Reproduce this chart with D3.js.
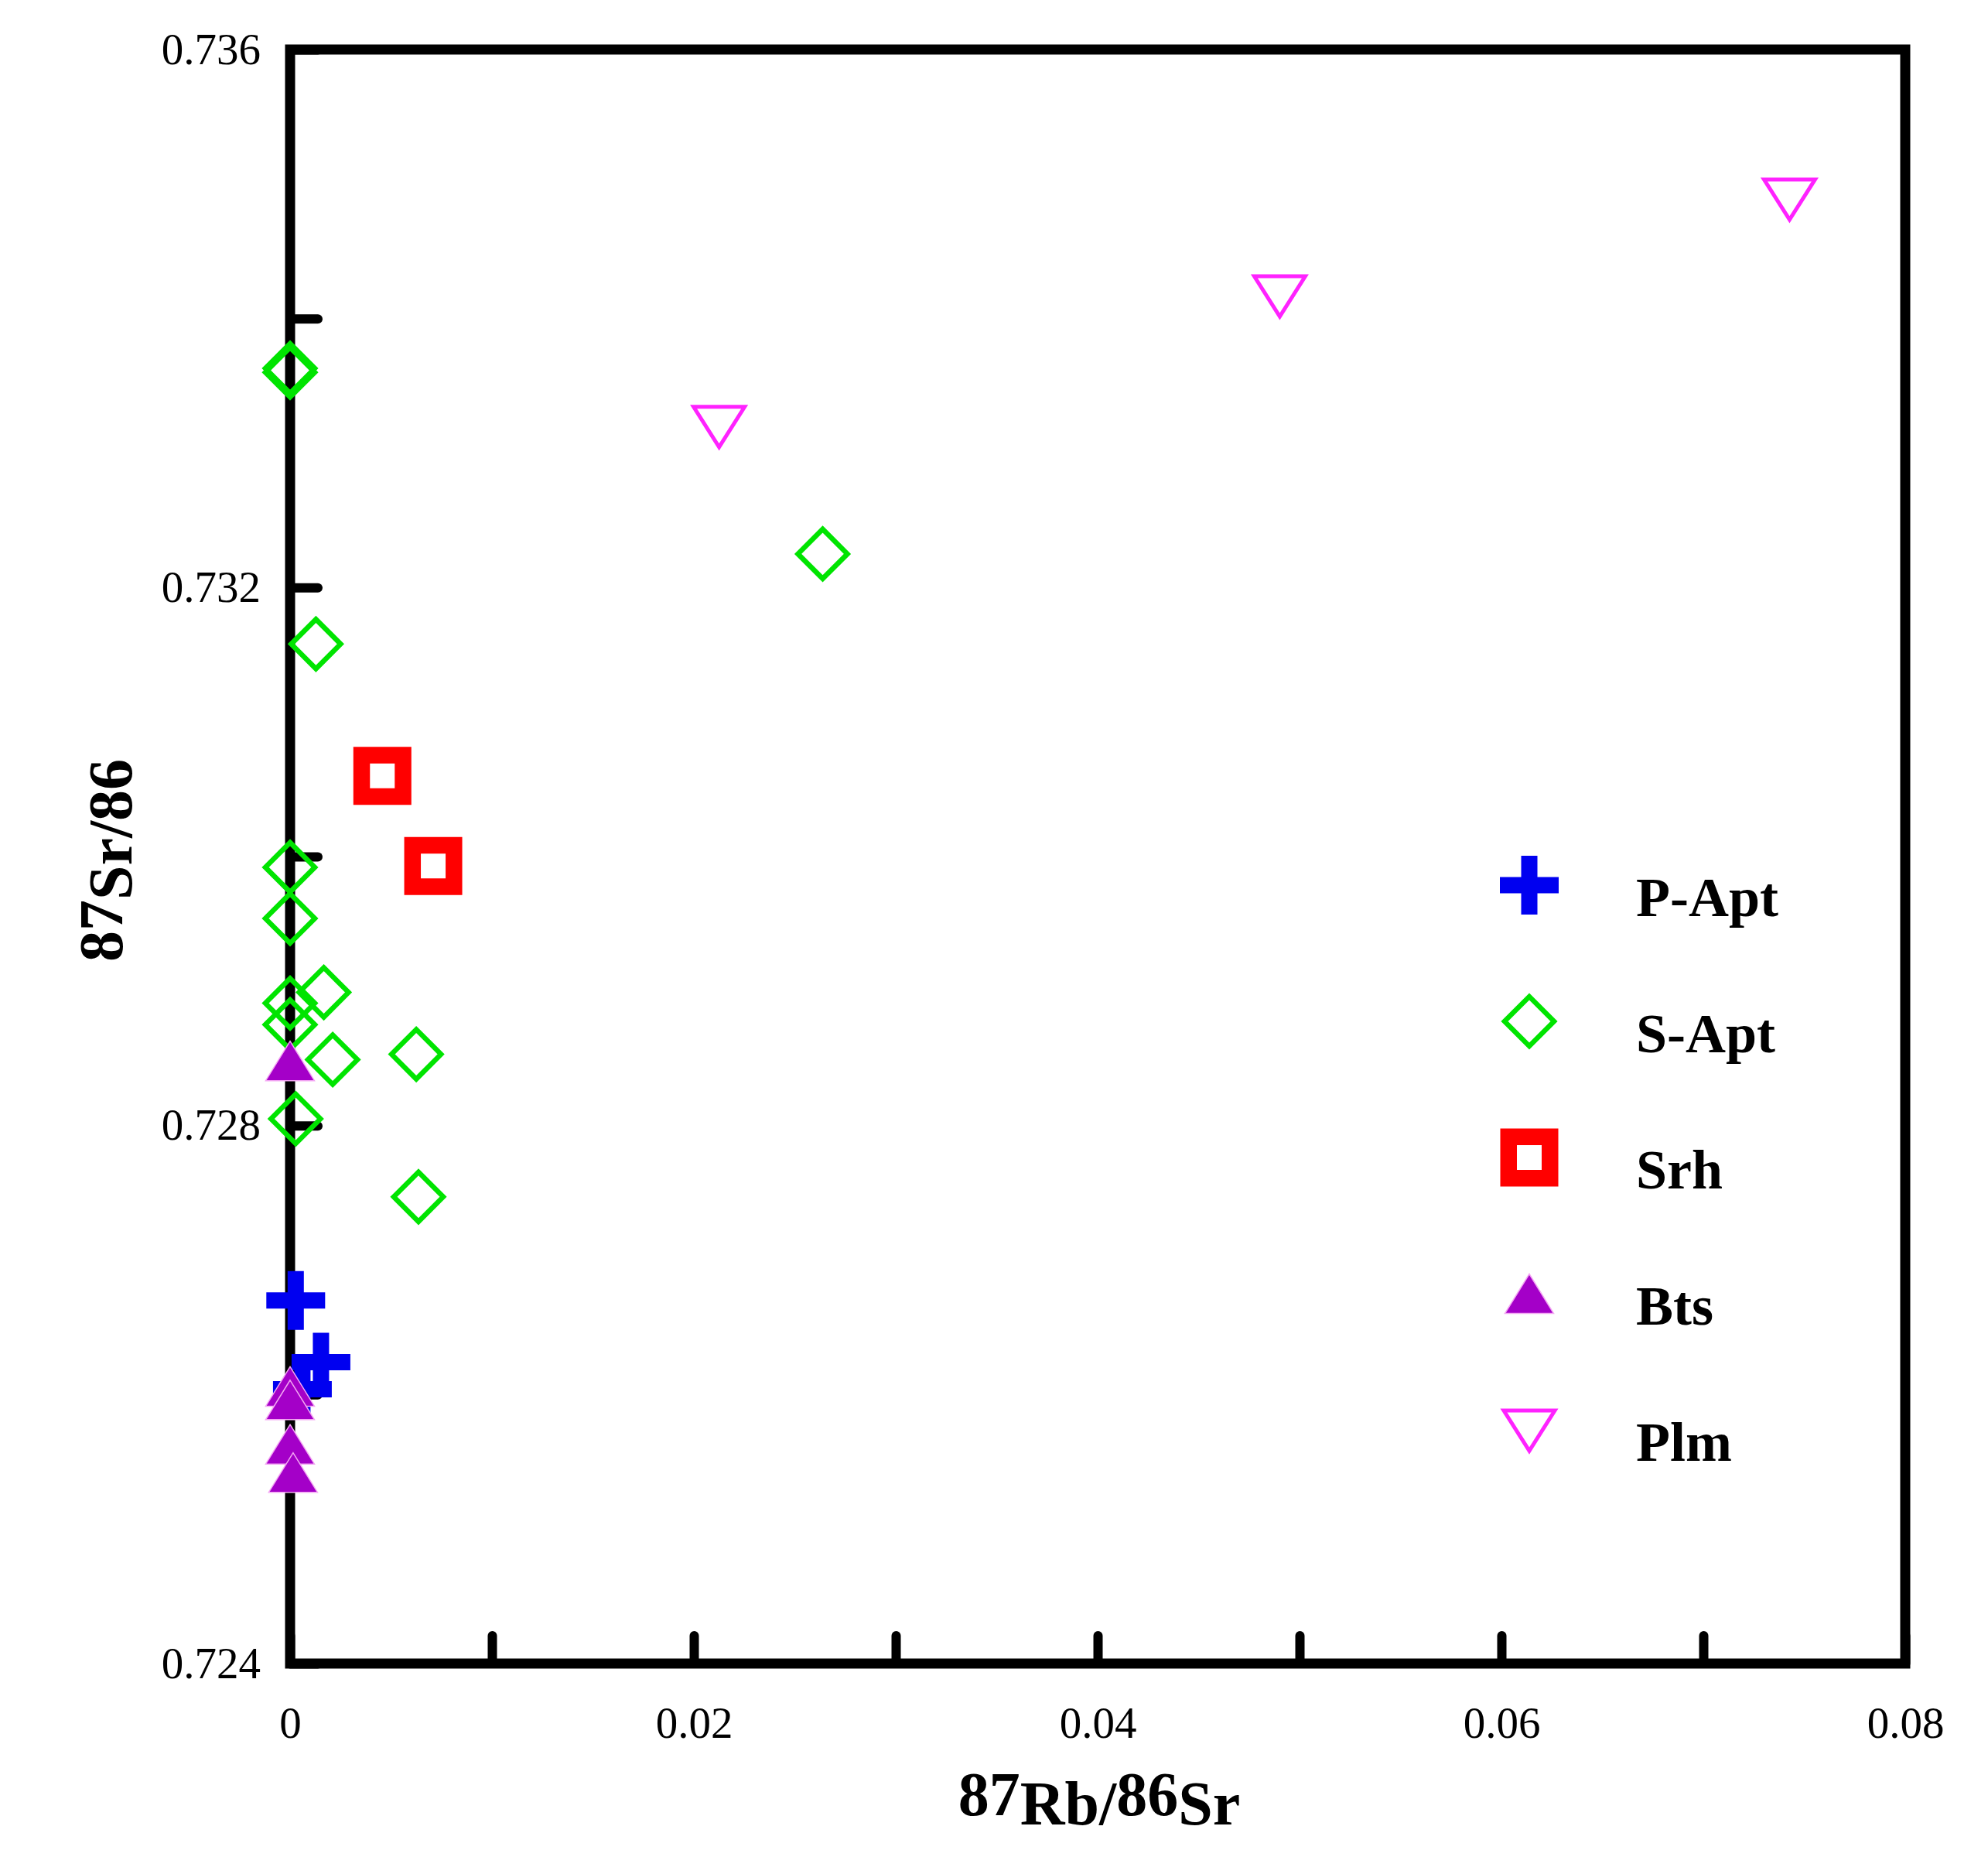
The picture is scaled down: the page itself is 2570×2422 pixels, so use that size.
<!DOCTYPE html>
<html>
<head>
<meta charset="utf-8">
<script src="https://cdn.jsdelivr.net/npm/d3@7"></script>
<style>
  html, body { margin: 0; padding: 0; background: #ffffff; }
  svg { display: block; }
</style>
</head>
<body>
<svg id="chart" width="2570" height="2422"></svg>
<script>
// ---------------- data ----------------
const seriesNames = ["P-Apt", "S-Apt", "Srh", "Bts", "Plm"];

const pApt = [
  { x: 0.00028, y: 0.72670 },
  { x: 0.00153, y: 0.72624 },
  { x: 0.00061, y: 0.72604 }
];

const sApt = [
  { x: 0.00000, y: 0.73363 },
  { x: 0.00000, y: 0.73360 },
  { x: 0.00128, y: 0.73158 },
  { x: 0.02638, y: 0.73225 },
  { x: 0.00000, y: 0.72992 },
  { x: 0.00000, y: 0.72954 },
  { x: 0.00167, y: 0.72899 },
  { x: 0.00000, y: 0.72891 },
  { x: 0.00000, y: 0.72875 },
  { x: 0.00211, y: 0.72849 },
  { x: 0.00625, y: 0.72853 },
  { x: 0.00028, y: 0.72805 },
  { x: 0.00636, y: 0.72747 }
];

const srh = [
  { x: 0.00457, y: 0.73060 },
  { x: 0.00709, y: 0.72993 }
];

const bts = [
  { x: 0.00000, y: 0.72848 },
  { x: 0.00000, y: 0.72606 },
  { x: 0.00000, y: 0.72596 },
  { x: 0.00000, y: 0.72563 },
  { x: 0.00015, y: 0.72542 }
];

const plm = [
  { x: 0.02125, y: 0.73320 },
  { x: 0.04902, y: 0.73417 },
  { x: 0.07427, y: 0.73489 }
];

const xTickValues = [0, 0.01, 0.02, 0.03, 0.04, 0.05, 0.06, 0.07, 0.08];
const xTickLabels = [0, 0.02, 0.04, 0.06, 0.08];
const yTickValues = [0.724, 0.726, 0.728, 0.730, 0.732, 0.734, 0.736];
const yTickLabels = [0.724, 0.728, 0.732, 0.736];

// ---------------- layout ----------------
const W = 2570, H = 2422;
const plot = { left: 375, right: 2463, top: 64, bottom: 2150 };
const serif = "'Liberation Serif', 'Times New Roman', Times, serif";

const svg = d3.select("#chart");
svg.append("rect").attr("width", W).attr("height", H).attr("fill", "#ffffff");

const x = d3.scaleLinear().domain([0, 0.08]).range([plot.left, plot.right]);
const y = d3.scaleLinear().domain([0.724, 0.736]).range([plot.bottom, plot.top]);

const isIn = (arr, v) => arr.some(a => Math.abs(a - v) < 1e-9);

// ---------------- axes ----------------
const yAxis = d3.axisLeft(y)
  .tickValues(yTickValues)
  .tickSizeInner(-36)
  .tickSizeOuter(0)
  .tickPadding(38)
  .tickFormat(d => isIn(yTickLabels, d) ? d3.format(".3f")(d) : "");

const xAxis = d3.axisBottom(x)
  .tickValues(xTickValues)
  .tickSizeInner(-36)
  .tickSizeOuter(0)
  .tickPadding(56)
  .tickFormat(d => isIn(xTickLabels, d) ? (d === 0 ? "0" : d3.format(".2f")(d)) : "");

const gy = svg.append("g").attr("transform", `translate(${plot.left},0)`).call(yAxis);
const gx = svg.append("g").attr("transform", `translate(0,${plot.bottom})`).call(xAxis);

[gx, gy].forEach(g => {
  g.select(".domain").remove();
  g.selectAll(".tick line")
    .attr("stroke", "#000")
    .attr("stroke-width", 12)
    .attr("stroke-linecap", "round");
  g.selectAll(".tick text")
    .attr("fill", "#000")
    .style("font-family", serif)
    .style("font-size", "57px");
});

// frame
svg.append("rect")
  .attr("x", plot.left).attr("y", plot.top)
  .attr("width", plot.right - plot.left)
  .attr("height", plot.bottom - plot.top)
  .attr("fill", "none")
  .attr("stroke", "#000")
  .attr("stroke-width", 13)
  .attr("stroke-linejoin", "miter");

// ---------------- marker shapes ----------------
const shapes = {
  "P-Apt": {
    d: (() => { const h = 38, a = 10.5;
      return `M${-a},${-h}H${a}V${-a}H${h}V${a}H${a}V${h}H${-a}V${a}H${-h}V${-a}H${-a}Z`; })(),
    fill: "#0000f0", stroke: "none", sw: 0
  },
  "S-Apt": {
    d: (() => { const r = 32; return `M0,${-r}L${r},0L0,${r}L${-r},0Z`; })(),
    fill: "none", stroke: "#00e400", sw: 6.5
  },
  "Srh": {
    d: (() => { const s = 26.75; return `M${-s},${-s}H${s}V${s}H${-s}Z`; })(),
    fill: "none", stroke: "#ff0000", sw: 21.5
  },
  "Bts": {
    d: "M0,-25.5L31.5,25.5L-31.5,25.5Z",
    fill: "#a400c8", stroke: "#f3a6f3", sw: 1.5
  },
  "Plm": {
    d: "M-33,-25L33,-25L0,27Z",
    fill: "none", stroke: "#ff22ff", sw: 5
  }
};

function drawSeries(name, data) {
  const s = shapes[name];
  svg.append("g").attr("class", "series-" + name)
    .selectAll("path")
    .data(data)
    .join("path")
    .attr("d", s.d)
    .attr("transform", d => `translate(${x(d.x)},${y(d.y)})`)
    .attr("fill", s.fill)
    .attr("stroke", s.stroke)
    .attr("stroke-width", s.sw)
    .attr("stroke-linejoin", "miter")
    .attr("stroke-miterlimit", 10);
}

drawSeries("S-Apt", sApt);
drawSeries("Srh", srh);
drawSeries("P-Apt", pApt);
drawSeries("Bts", bts);
drawSeries("Plm", plm);

// ---------------- legend ----------------
const legendX = 1977, legendY0 = 1144, legendDY = 176, legendTextX = 2115;
const lg = svg.append("g").attr("class", "legend");
seriesNames.forEach((name, i) => {
  const s = shapes[name];
  const cy = legendY0 + i * legendDY;
  lg.append("path")
    .attr("d", s.d)
    .attr("transform", `translate(${legendX},${cy})`)
    .attr("fill", s.fill)
    .attr("stroke", s.stroke)
    .attr("stroke-width", s.sw)
    .attr("stroke-linejoin", "miter");
  lg.append("text")
    .attr("x", legendTextX)
    .attr("y", cy + 40)
    .style("font-family", serif)
    .style("font-weight", "bold")
    .style("font-size", "72px")
    .attr("fill", "#000")
    .text(name);
});

// ---------------- axis titles ----------------
const xt = svg.append("text")
  .attr("x", (plot.left + plot.right) / 2 + 2)
  .attr("y", 2358)
  .attr("text-anchor", "middle")
  .style("font-family", serif)
  .style("font-weight", "bold")
  .style("font-size", "80px")
  .attr("fill", "#000");
xt.append("tspan").attr("dy", -12).text("87");
xt.append("tspan").attr("dy", 12).text("Rb/");
xt.append("tspan").attr("dy", -12).text("86");
xt.append("tspan").attr("dy", 12).text("Sr");

const yt = svg.append("text")
  .attr("transform", `translate(170,${(plot.top + plot.bottom) / 2 + 5}) rotate(-90)`)
  .attr("text-anchor", "middle")
  .style("font-family", serif)
  .style("font-weight", "bold")
  .style("font-size", "80px")
  .attr("fill", "#000");
yt.append("tspan").attr("dy", -12).text("87");
yt.append("tspan").attr("dy", 12).text("Sr/86");
</script>
</body>
</html>
